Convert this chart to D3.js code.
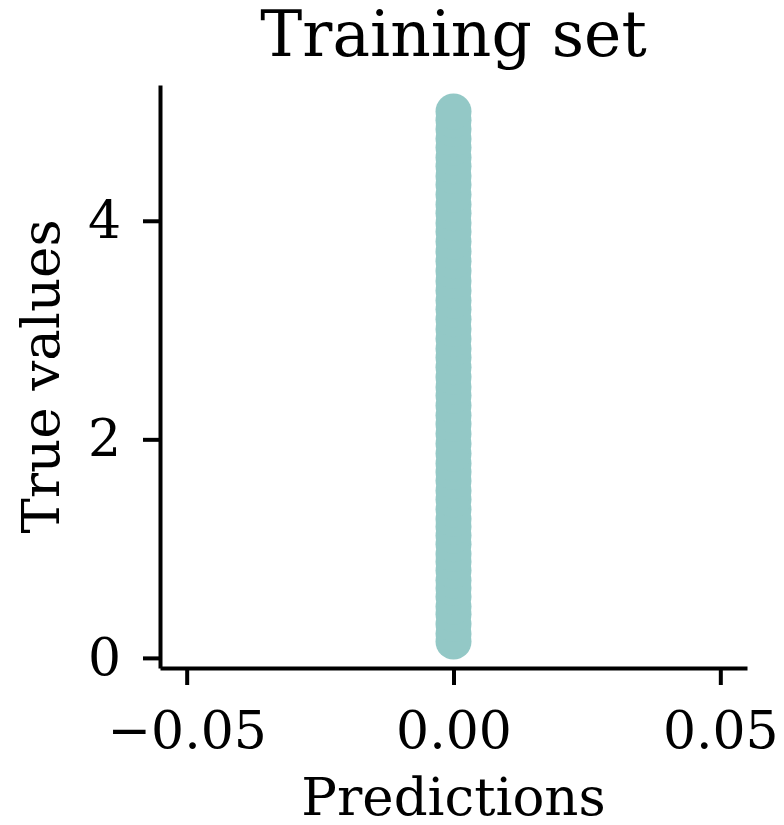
<!DOCTYPE html>
<html lang="en">
<head>
    <meta charset="UTF-8">
    <title>Training set</title>
    <script src="https://d3js.org/d3.v7.min.js"></script>
    <style>
        body {
            margin: 0;
            background-color: #ffffff;
        }

        svg {
            display: block;
            font-family: "DejaVu Serif", serif;
        }

        .axis path,
        .axis line {
            stroke: #000;
            stroke-width: 4px;
        }

        .axis text {
            font-family: "DejaVu Serif", serif;
            font-size: 52px;
            fill: #000;
        }

        .title {
            font-size: 63px;
            fill: #000;
        }

        .axis-label {
            font-size: 53px;
            fill: #000;
        }
    </style>
</head>
<body>
<svg width="784" height="825"></svg>
<script>
    // predictions are all zero; true values read along the vertical band
    const trueValues = [
        0.15, 0.22, 0.31, 0.40, 0.47, 0.56, 0.64, 0.71, 0.80, 0.88,
        0.95, 1.04, 1.12, 1.20, 1.27, 1.36, 1.45, 1.53, 1.62, 1.70,
        1.78, 1.87, 1.96, 2.05, 2.14, 2.22, 2.31, 2.40, 2.48, 2.57,
        2.66, 2.75, 2.83, 2.92, 3.01, 3.10, 3.19, 3.27, 3.36, 3.45,
        3.54, 3.63, 3.72, 3.81, 3.90, 3.98, 4.07, 4.15, 4.24, 4.33,
        4.41, 4.50, 4.58, 4.67, 4.75, 4.84, 4.92, 5.00
    ];
    const predictions = [
        0, 0, 0, 0, 0, 0, 0, 0, 0, 0,
        0, 0, 0, 0, 0, 0, 0, 0, 0, 0,
        0, 0, 0, 0, 0, 0, 0, 0, 0, 0,
        0, 0, 0, 0, 0, 0, 0, 0, 0, 0,
        0, 0, 0, 0, 0, 0, 0, 0, 0, 0,
        0, 0, 0, 0, 0, 0, 0, 0
    ];
    const xTicks = [-0.05, 0, 0.05];
    const yTicks = [0, 2, 4];

    const svg = d3.select("svg"),
        margin = {top: 85, right: 37, bottom: 157, left: 160},
        width = +svg.attr("width") - margin.left - margin.right,
        height = +svg.attr("height") - margin.top - margin.bottom,
        g = svg.append("g").attr("transform", `translate(${margin.left},${margin.top})`);

    const points = predictions.map((p, i) => ({x: p, y: trueValues[i]}));

    // matplotlib-like autoscale: 5% margin, flat x data gets +-0.055
    const yMin = d3.min(trueValues), yMax = d3.max(trueValues);
    const yPad = (yMax - yMin) * 0.05;

    const x = d3.scaleLinear().domain([-0.055, 0.055]).range([0, width]);
    const y = d3.scaleLinear().domain([yMin - yPad, yMax + yPad]).range([height, 0]);

    g.selectAll(".dot")
        .data(points)
        .join("circle")
        .attr("class", "dot")
        .attr("cx", d => x(d.x))
        .attr("cy", d => y(d.y))
        .attr("r", 18)
        .style("fill", "#93c8c6");

    const xAxis = g.append("g")
        .attr("class", "axis axis--x")
        .attr("transform", `translate(0,${height})`)
        .call(d3.axisBottom(x).tickValues(xTicks).tickFormat(d3.format(".2f"))
            .tickSizeInner(17).tickSizeOuter(0).tickPadding(26));
    xAxis.selectAll("text").attr("dy", "0.71em");

    const yAxis = g.append("g")
        .attr("class", "axis axis--y")
        .call(d3.axisLeft(y).tickValues(yTicks).tickFormat(d3.format("d"))
            .tickSizeInner(17).tickSizeOuter(0).tickPadding(22));

    svg.selectAll(".axis").attr("font-family", null).attr("font-size", null);

    svg.append("text")
        .attr("class", "title")
        .attr("x", margin.left + width / 2)
        .attr("y", 56)
        .style("text-anchor", "middle")
        .text("Training set");

    svg.append("text")
        .attr("class", "axis-label")
        .attr("x", margin.left + width / 2)
        .attr("y", 815)
        .style("text-anchor", "middle")
        .text("Predictions");

    svg.append("text")
        .attr("class", "axis-label")
        .attr("transform", `translate(59,${margin.top + height / 2}) rotate(-90)`)
        .style("text-anchor", "middle")
        .text("True values");
</script>
</body>
</html>
